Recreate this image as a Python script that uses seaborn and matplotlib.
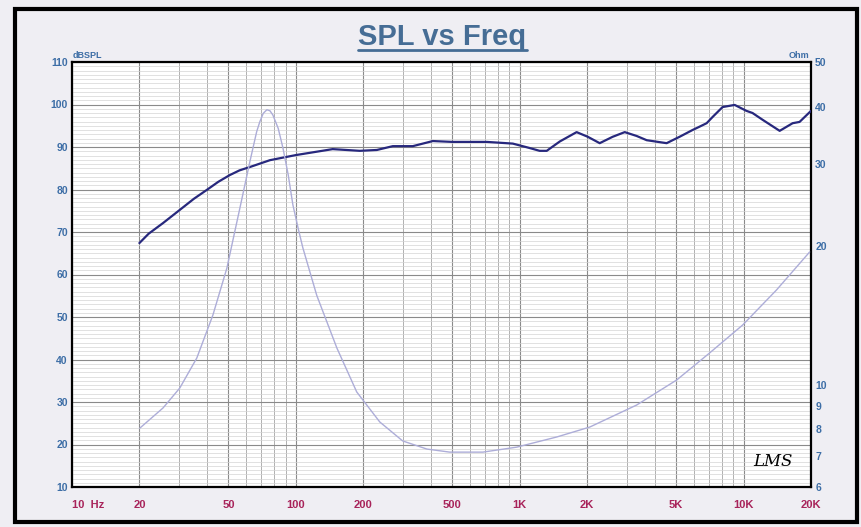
import matplotlib
matplotlib.use("Agg")
import matplotlib.pyplot as plt
from matplotlib import font_manager
from matplotlib.ticker import FixedLocator, NullLocator, NullFormatter, MultipleLocator
from matplotlib.patches import Rectangle
from matplotlib.lines import Line2D
import seaborn as sns
import pandas as pd

# ---------------- data ----------------
spl_freq = [20, 22, 25.5, 30.3, 35, 40, 45, 50.7, 56, 62.4, 76.6, 100, 146, 193, 230, 271, 333, 409,
            500, 713, 815, 931, 1100, 1227, 1320, 1510, 1795, 2014, 2276, 2600, 2944,
            3326, 3690, 4530, 5175, 5915, 6366, 6837, 7280, 8055, 9120, 10300, 10960,
            12160, 14490, 16560, 17780, 20000]
spl_db = [67.4, 69.6, 72.1, 75.2, 77.8, 79.9, 81.8, 83.4, 84.5, 85.3, 86.9, 88.1, 89.5, 89.1, 89.3, 90.2, 90.2, 91.4,
          91.2, 91.2, 91.0, 90.8, 89.8, 89.1, 89.1, 91.3, 93.5, 92.4, 90.9, 92.4, 93.5,
          92.6, 91.6, 90.9, 92.4, 94.0, 94.8, 95.6, 97.1, 99.4, 99.9, 98.5, 98.0,
          96.4, 93.8, 95.6, 95.9, 98.5]

imp_freq = [20.1, 25.5, 30.3, 36.1, 42.6, 49.2, 52.5, 56.2, 59.2, 62.3, 66.8, 69.0, 71.5, 74.2,
            76.6, 78.9, 83.4, 87.5, 92.4, 97.0, 102.4, 107.4, 124, 152.5, 187, 237, 300, 385,
            487, 684, 970, 1463, 2053, 3326, 5020, 7050, 9900, 14020, 19720]
imp_ohm = [8.05, 8.90, 9.83, 11.42, 14.15, 17.89, 20.7, 24.1, 27.1, 30.4, 35.3, 37.1, 38.7, 39.4,
           39.2, 38.4, 35.9, 32.6, 28.5, 24.5, 21.8, 19.8, 15.6, 12.0, 9.64, 8.30, 7.55, 7.25,
           7.14, 7.14, 7.32, 7.70, 8.09, 9.03, 10.23, 11.71, 13.46, 16.03, 19.38]

x_ticks = [10, 20, 50, 100, 200, 500, 1000, 2000, 5000, 10000, 20000]
x_tick_labels = ["10  Hz", "20", "50", "100", "200", "500", "1K", "2K", "5K", "10K", "20K"]
db_ticks = [10, 20, 30, 40, 50, 60, 70, 80, 90, 100, 110]
ohm_ticks = [6, 7, 8, 9, 10, 20, 30, 40, 50]

# ---------------- style ----------------
sns.set_style("white")
names = {f.name for f in font_manager.fontManager.ttflist}
narrow = "Liberation Sans Narrow" if "Liberation Sans Narrow" in names else "Liberation Sans"
plt.rcParams['font.family'] = [narrow, 'DejaVu Sans']

BG = "#efeef3"
BLUE = "#3d6ea6"
RED = "#a8235a"
TITLE = "#466d95"

fig = plt.figure(figsize=(8.61, 5.27), dpi=100, facecolor=BG)
W, H = 861, 527
left, right, top, bottom = 72, 811, 62, 487
ax = fig.add_axes([left / W, (H - bottom) / H, (right - left) / W, (bottom - top) / H])
ax.set_facecolor("white")

df_spl = pd.DataFrame({"freq": spl_freq, "db": spl_db})
df_imp = pd.DataFrame({"freq": imp_freq, "ohm": imp_ohm})

ax.set_xscale("log")
ax.set_xlim(10, 20000)
ax.set_ylim(10, 110)

# grid
ax.xaxis.set_major_locator(FixedLocator(x_ticks))
ax.xaxis.set_minor_locator(FixedLocator([m * d for d in [10, 100, 1000, 10000] for m in range(1, 10)
                                         if 10 <= m * d <= 20000 and m * d not in x_ticks]))
ax.xaxis.set_minor_formatter(NullFormatter())
ax.set_xticklabels(x_tick_labels)
ax.set_yticks(db_ticks)
ax.yaxis.set_minor_locator(MultipleLocator(1))
ax.grid(which="major", axis="both", color="#8a8a8a", lw=0.8)
ax.grid(which="minor", axis="y", color="#d4d4d4", lw=0.5)
ax.grid(which="minor", axis="x", color="#a4a4a4", lw=0.6)
ax.set_axisbelow(True)

sns.lineplot(data=df_spl, x="freq", y="db", ax=ax, color="#27287d", lw=1.6, zorder=5)
ax.set_xlabel("")
ax.set_ylabel("")

ax.tick_params(axis="both", which="both", length=0)
ax.tick_params(axis="x", pad=9, labelcolor=RED, labelsize=8)
ax.tick_params(axis="y", pad=3, labelcolor=BLUE, labelsize=7.5)
for lab in ax.get_xticklabels():
    lab.set_fontweight("bold")
for lab in ax.get_yticklabels():
    lab.set_fontweight("bold")
ax.get_xticklabels()[0].set_horizontalalignment("left")

for s in ax.spines.values():
    s.set_color("black")
    s.set_linewidth(1.6)

# impedance axis
ax2 = ax.twinx()
ax2.set_yscale("log")
ax2.set_ylim(6, 50)
sns.lineplot(data=df_imp, x="freq", y="ohm", ax=ax2, color="#adadd8", lw=1.0, zorder=4)
ax2.set_xlabel("")
ax2.set_ylabel("")
ax2.yaxis.set_minor_locator(NullLocator())
ax2.yaxis.set_major_locator(FixedLocator(ohm_ticks))
ax2.set_yticklabels([str(t) for t in ohm_ticks])
ax2.tick_params(axis="y", which="both", length=0, pad=3, labelcolor=BLUE, labelsize=7.5)
for lab in ax2.get_yticklabels():
    lab.set_fontweight("bold")
ax2.grid(False)
for s in ax2.spines.values():
    s.set_visible(False)
ax.set_xlim(10, 20000)

# axis unit labels
fig.text(left / W + 0.001, (H - 56) / H, "dBSPL", color=BLUE, fontsize=6.5, fontweight="bold",
         ha="left", va="center")
fig.text(right / W - 0.002, (H - 56) / H, "Ohm", color=BLUE, fontsize=6.5, fontweight="bold",
         ha="right", va="center")

# title with underline
fig.text(442 / W, (H - 37) / H, "SPL vs Freq", color=TITLE, fontsize=21, fontweight="bold",
         ha="center", va="center")
fig.add_artist(Line2D([358 / W, 527 / W], [(H - 50) / H, (H - 50) / H], color=TITLE, lw=2.0))

# LMS mark
ax.text(0.975, 0.04, "LMS", transform=ax.transAxes, fontsize=12, fontstyle="italic",
        family="DejaVu Serif", color="black", ha="right", va="bottom", zorder=6)

# figure border
fig.add_artist(Rectangle((15 / W, 5 / H), (857 - 15) / W, (520 - 7) / H, transform=fig.transFigure,
                         fill=False, edgecolor="black", lw=3.0))

fig.savefig("out.png", dpi=100, facecolor=BG)
